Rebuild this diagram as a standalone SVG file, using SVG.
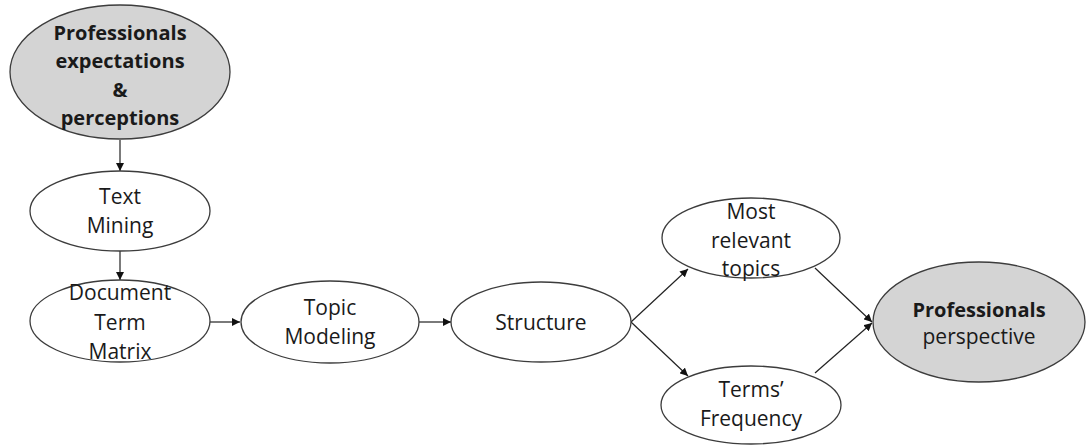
<svg xmlns="http://www.w3.org/2000/svg" width="1086" height="446" viewBox="0 0 1086 446">
  <style>
    .node { fill: #ffffff; stroke: #3c3c3c; stroke-width: 1.3; }
    .hl { fill: #d4d4d4; stroke: #3c3c3c; stroke-width: 1.3; }
    text { font-family: "Open Sans", "Liberation Sans", sans-serif; font-size: 21px; fill: #1a1a1a; text-anchor: middle; }
    .b { font-weight: bold; font-size: 20px; }
    .edge { stroke: #222222; stroke-width: 1.2; fill: none; marker-end: url(#arrow); }
  </style>
  <defs>
    <marker id="arrow" viewBox="0 0 10 10" refX="10" refY="5" markerWidth="8" markerHeight="8" markerUnits="userSpaceOnUse" orient="auto">
      <path d="M0,0 L10,5 L0,10 Z" fill="#111111"/>
    </marker>
  </defs>
  <rect width="1086" height="446" fill="#ffffff"/>

  <g id="connectors">
    <line class="edge" x1="120" y1="140" x2="120" y2="171"/>
    <line class="edge" x1="120" y1="251" x2="120" y2="280"/>
    <line class="edge" x1="210" y1="322" x2="240" y2="322"/>
    <line class="edge" x1="419" y1="322" x2="451" y2="322"/>
    <line class="edge" x1="631" y1="322" x2="688" y2="269"/>
    <line class="edge" x1="631" y1="322" x2="688" y2="376"/>
    <line class="edge" x1="815" y1="268" x2="872" y2="322"/>
    <line class="edge" x1="815" y1="373" x2="872" y2="323"/>
  </g>

  <g id="expectations">
    <ellipse class="hl" cx="120" cy="72" rx="110" ry="67"/>
    <text class="b" x="120" y="40">Professionals</text>
    <text class="b" x="120" y="68">expectations</text>
    <text class="b" x="120" y="97">&amp;</text>
    <text class="b" x="120" y="125">perceptions</text>
  </g>

  <g id="text-mining">
    <ellipse class="node" cx="120" cy="211" rx="90" ry="40"/>
    <text x="120" y="204">Text</text>
    <text x="120" y="233">Mining</text>
  </g>

  <g id="dtm">
    <ellipse class="node" cx="120" cy="321" rx="90" ry="41"/>
    <text x="120" y="300">Document</text>
    <text x="120" y="330">Term</text>
    <text x="120" y="359">Matrix</text>
  </g>

  <g id="topic-modeling">
    <ellipse class="node" cx="330" cy="322" rx="89" ry="41"/>
    <text x="330" y="315">Topic</text>
    <text x="330" y="344">Modeling</text>
  </g>

  <g id="structure">
    <ellipse class="node" cx="541" cy="322" rx="90" ry="40"/>
    <text x="541" y="330">Structure</text>
  </g>

  <g id="relevant-topics">
    <ellipse class="node" cx="751" cy="238" rx="89" ry="40"/>
    <text x="751" y="219">Most</text>
    <text x="751" y="248">relevant</text>
    <text x="751" y="276">topics</text>
  </g>

  <g id="terms-frequency">
    <ellipse class="node" cx="751" cy="405" rx="90" ry="39"/>
    <text x="751" y="397">Terms’</text>
    <text x="751" y="426">Frequency</text>
  </g>

  <g id="perspective">
    <ellipse class="hl" cx="979" cy="322" rx="106" ry="60"/>
    <text class="b" x="979" y="317">Professionals</text>
    <text x="979" y="344">perspective</text>
  </g>
</svg>
